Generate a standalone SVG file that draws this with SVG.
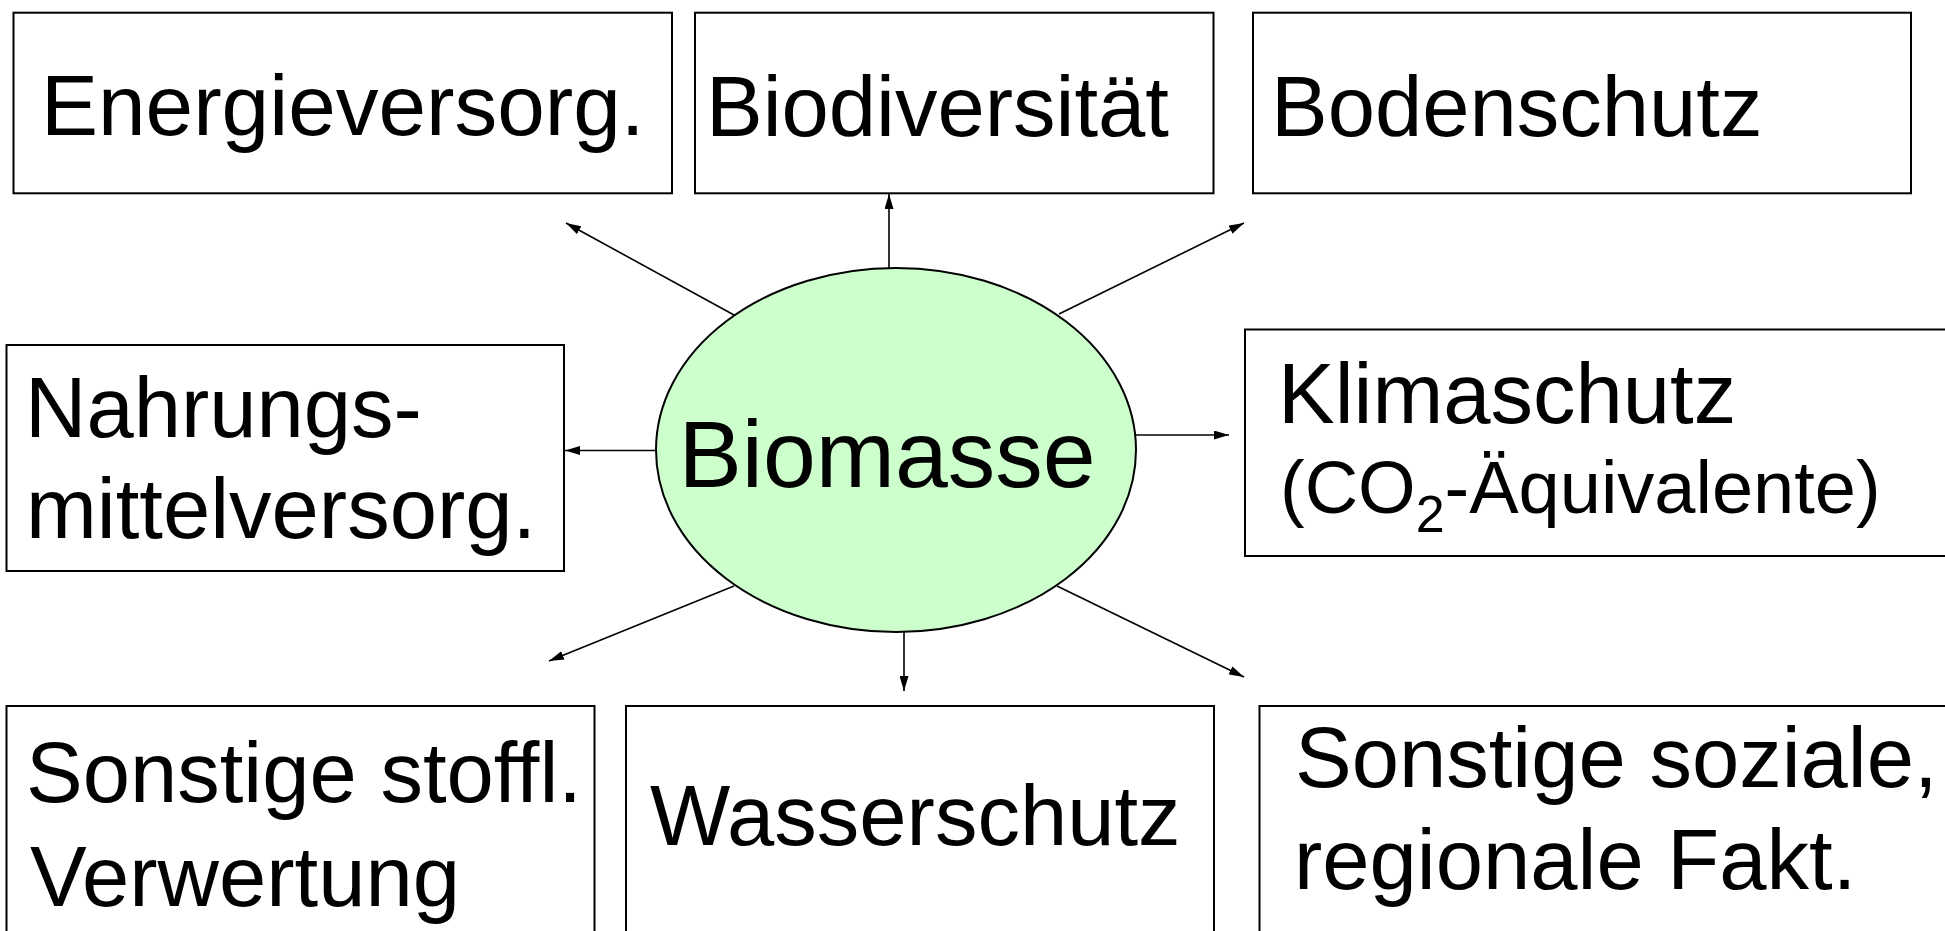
<svg xmlns="http://www.w3.org/2000/svg" width="1945" height="931" viewBox="0 0 1945 931">
<style>
.box{fill:#fff;stroke:#000;stroke-width:2}
.t{font-family:"Liberation Sans",Arial,sans-serif;font-size:85px;fill:#000}
.c{stroke:#000;stroke-width:1.6;fill:none;marker-end:url(#ah)}
</style>
<defs>
<marker id="ah" viewBox="0 0 15 9" refX="15" refY="4.5" markerWidth="15" markerHeight="9" markerUnits="userSpaceOnUse" orient="auto">
<path d="M0,0 L15,4.5 L0,9 z" fill="#000"/>
</marker>
</defs>
<rect width="1945" height="931" fill="#fff"/>
<g id="energie"><rect class="box" x="13.5" y="12.7" width="658.5" height="180.6"/><text class="t" x="41" y="135" style="font-size:85.5px">Energieversorg.</text></g>
<g id="biodiv"><rect class="box" x="695" y="12.7" width="518.5" height="180.6"/><text class="t" x="706" y="136">Biodiversität</text></g>
<g id="boden"><rect class="box" x="1253" y="12.7" width="658" height="180.6"/><text class="t" x="1271" y="136">Bodenschutz</text></g>
<g id="nahrung"><rect class="box" x="6.5" y="345" width="557.5" height="226"/><text class="t" x="25" y="437">Nahrungs-</text><text class="t" x="26" y="538">mittelversorg.</text></g>
<g id="klima"><rect class="box" x="1245" y="329.5" width="720" height="226.5"/><text class="t" x="1278" y="423">Klimaschutz</text><text class="t" x="1280" y="513" style="font-size:74px">(CO<tspan dy="19" style="font-size:52px">2</tspan><tspan dy="-19">-Äquivalente)</tspan></text></g>
<g id="stoffl"><rect class="box" x="6.5" y="706" width="588" height="240"/><text class="t" x="26" y="802">Sonstige stoffl.</text><text class="t" x="30" y="906">Verwertung</text></g>
<g id="wasser"><rect class="box" x="626" y="706" width="588" height="240"/><text class="t" x="650" y="845">Wasserschutz</text></g>
<g id="sozial"><rect class="box" x="1259.5" y="706" width="720" height="240"/><text class="t" x="1295" y="787">Sonstige soziale,</text><text class="t" x="1294" y="889">regionale Fakt.</text></g>
<g id="connectors">
<line class="c" x1="889" y1="268" x2="889" y2="194"/>
<line class="c" x1="734" y1="315" x2="566" y2="223"/>
<line class="c" x1="1059" y1="314" x2="1244" y2="223"/>
<line class="c" x1="658" y1="450.5" x2="565" y2="450.5"/>
<line class="c" x1="1136" y1="435" x2="1229" y2="435"/>
<line class="c" x1="734" y1="586" x2="549" y2="661"/>
<line class="c" x1="904" y1="632" x2="904" y2="691"/>
<line class="c" x1="1057" y1="586" x2="1244" y2="677"/>
</g>
<g id="biomasse"><ellipse cx="896" cy="450" rx="240" ry="182" fill="#CCFFCC" stroke="#000" stroke-width="2"/><text class="t" x="887" y="487" text-anchor="middle" style="font-size:95px">Biomasse</text></g>
</svg>
